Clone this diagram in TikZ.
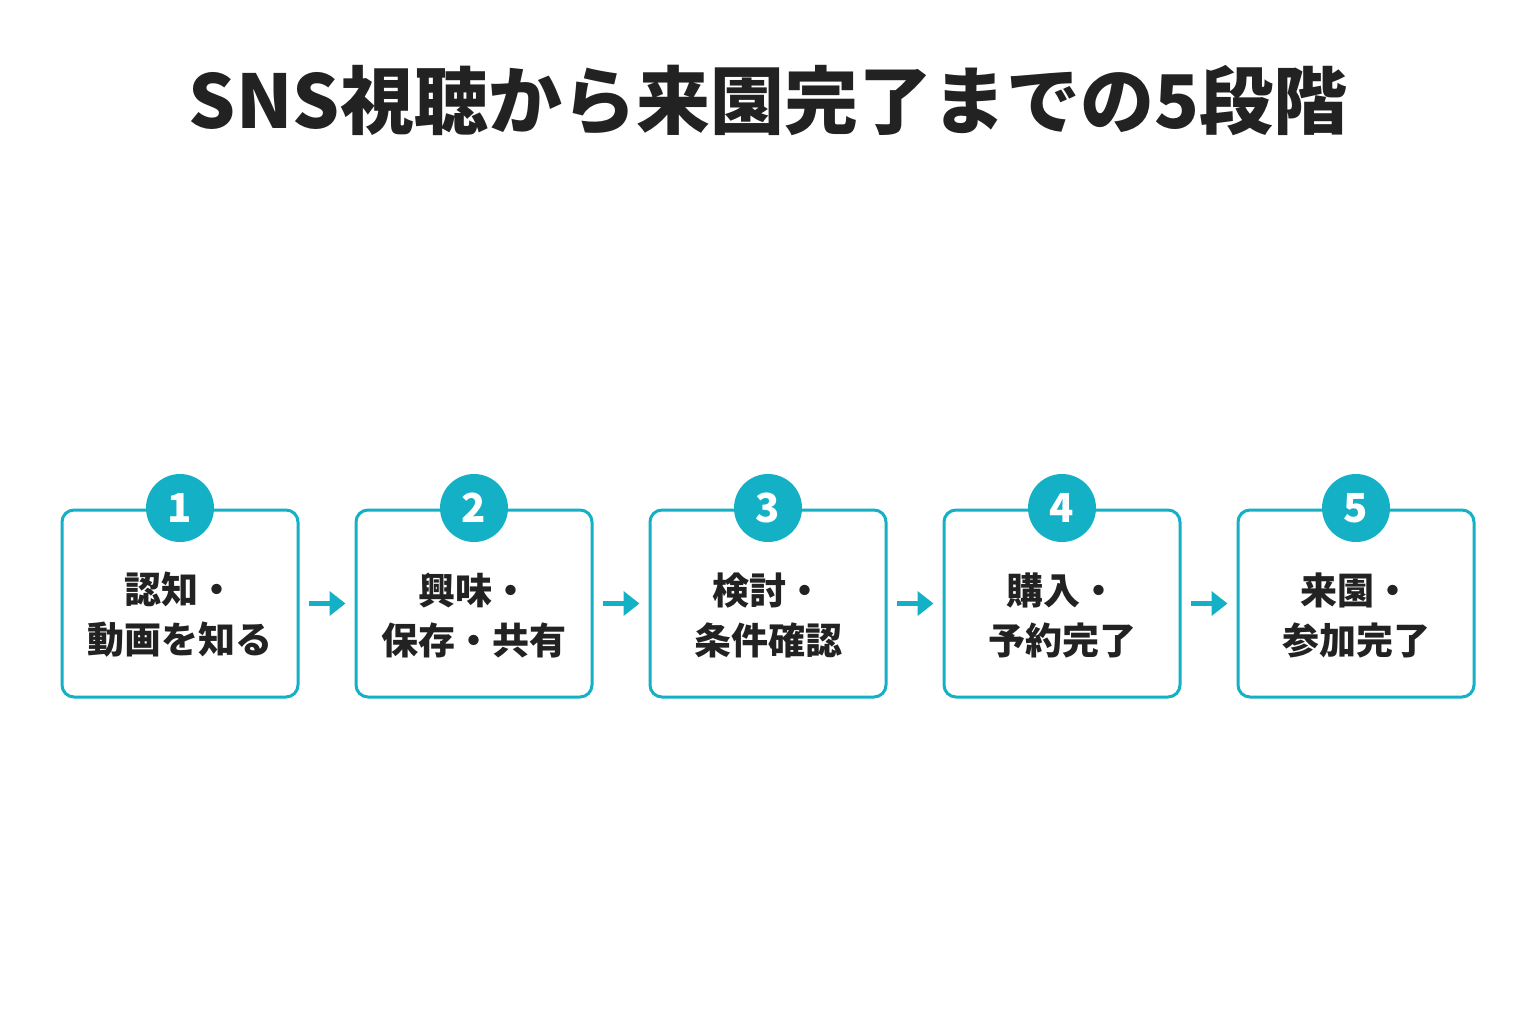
\documentclass[tikz,border=0pt]{standalone}
\usepackage{fontspec}
\setmainfont{Noto Sans CJK JP}
\usetikzlibrary{arrows.meta}
\definecolor{teal}{HTML}{14B1C6}
\definecolor{ink}{HTML}{222222}

\begin{document}
\begin{tikzpicture}[x=0.5pt,y=-0.5pt]
\tikzstyle{every node}+=[inner sep=0pt]
\tikzstyle{stage}=[draw=teal, line width=1.5pt, rounded corners=6pt, minimum width=118pt, minimum height=93.5pt, fill=white]
\tikzstyle{badge}=[circle, fill=teal, minimum size=34pt, text=white, font=\fontsize{20}{20}\selectfont\bfseries]
\tikzstyle{label}=[align=center, text=ink, font=\fontsize{18.5}{25}\selectfont\bfseries]
\tikzstyle{flow}=[teal, line width=2.5pt, -{Triangle[length=8pt,width=12pt]}, shorten <=4.5pt, shorten >=4.5pt]
\useasboundingbox (0,0) rectangle (1536,1024);
% title
\node[text=ink, font=\fontsize{37}{37}\selectfont\bfseries] (title) at (768,100) {SNS視聴から来園完了までの5段階};
% stage boxes
\node[stage] (b1) at (180,603.5) {};
\node[stage] (b2) at (474,603.5) {};
\node[stage] (b3) at (768,603.5) {};
\node[stage] (b4) at (1062,603.5) {};
\node[stage] (b5) at (1356,603.5) {};
% numbers
\node[badge] (n1) at (180,508) {1};
\node[badge] (n2) at (474,508) {2};
\node[badge] (n3) at (768,508) {3};
\node[badge] (n4) at (1062,508) {4};
\node[badge] (n5) at (1356,508) {5};
% texts
\node[label] (t1) at (180,615) {認知・\\動画を知る};
\node[label] (t2) at (474,615) {興味・\\保存・共有};
\node[label] (t3) at (768,615) {検討・\\条件確認};
\node[label] (t4) at (1062,615) {購入・\\予約完了};
\node[label] (t5) at (1356,615) {来園・\\参加完了};
% arrows
\draw[flow] (b1.east) -- (b2.west);
\draw[flow] (b2.east) -- (b3.west);
\draw[flow] (b3.east) -- (b4.west);
\draw[flow] (b4.east) -- (b5.west);
\end{tikzpicture}
\end{document}
